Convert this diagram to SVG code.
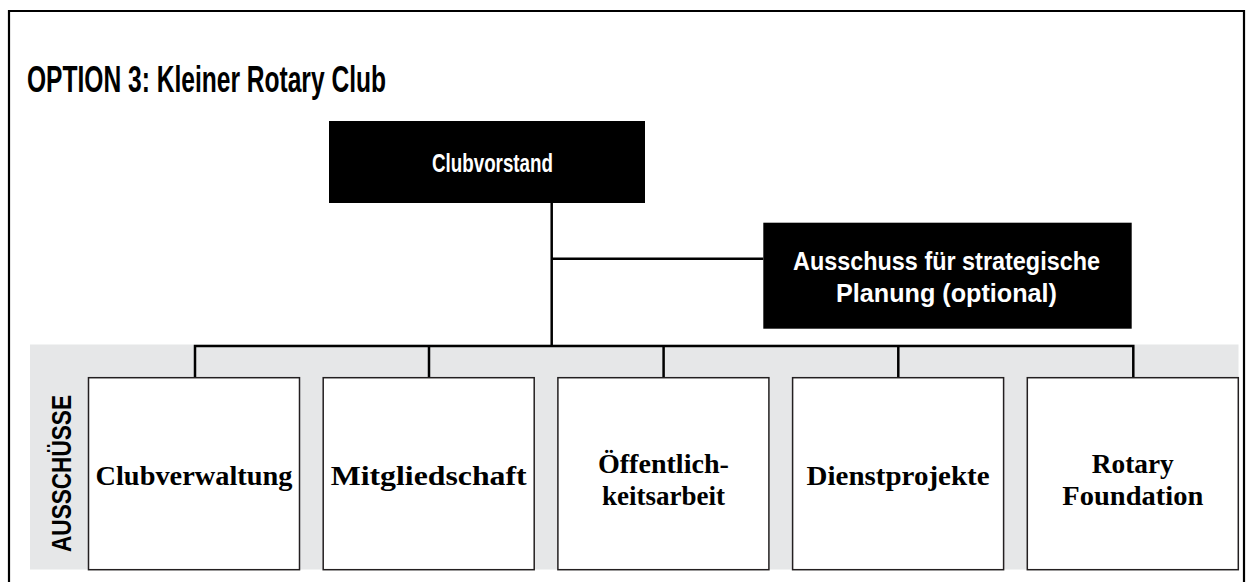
<svg xmlns="http://www.w3.org/2000/svg" width="1252" height="582" viewBox="0 0 1252 582">
<style>
.frame{fill:none;stroke:#000;stroke-width:2.2}
.dark{fill:#000}
.box{fill:#fff;stroke:#231f20;stroke-width:1.5}
.line{fill:none;stroke:#000;stroke-width:2.5}
.cond{font-family:"Liberation Sans",Arial,sans-serif;font-weight:bold}
.wt{fill:#fff;font-size:26px}
.serif{font-family:"Liberation Serif","Times New Roman",serif;font-weight:bold;font-size:28px;fill:#000}
</style>
<rect width="1252" height="582" fill="#fff"/>
<path class="frame" d="M9,582 V11 H1244 V582"/>
<text class="cond" x="27" y="92" font-size="36" textLength="359" lengthAdjust="spacingAndGlyphs">OPTION 3: Kleiner Rotary Club</text>
<rect x="30" y="344.5" width="1208.5" height="225" fill="#e6e7e8"/>
<g id="connectors">
<path class="line" d="M551.7,203 V346"/>
<path class="line" d="M551.7,258.7 H763.3"/>
<path class="line" d="M195,377.7 V346 H1133.3 V377.7"/>
<path class="line" d="M429,346 V377.7 M663.6,346 V377.7 M898.3,346 V377.7"/>
</g>
<g id="clubvorstand">
<rect class="dark" x="329" y="121" width="316" height="82"/>
<text class="cond wt" x="492.5" y="172" text-anchor="middle" textLength="121" lengthAdjust="spacingAndGlyphs">Clubvorstand</text>
</g>
<g id="strategie">
<rect class="dark" x="763.3" y="222.7" width="368.4" height="106"/>
<text class="cond wt" x="946.5" y="270" text-anchor="middle" textLength="307" lengthAdjust="spacingAndGlyphs">Ausschuss für strategische</text>
<text class="cond wt" x="946.5" y="302" text-anchor="middle" textLength="221" lengthAdjust="spacingAndGlyphs">Planung (optional)</text>
</g>
<g id="label-ausschuesse">
<text class="cond" font-size="27" transform="translate(71,473.5) rotate(-90)" text-anchor="middle" textLength="157" lengthAdjust="spacingAndGlyphs">AUSSCHÜSSE</text>
</g>
<g id="clubverwaltung">
<rect class="box" x="88.5" y="377.7" width="211" height="192"/>
<text class="serif" x="194" y="485" text-anchor="middle" textLength="197" lengthAdjust="spacingAndGlyphs">Clubverwaltung</text>
</g>
<g id="mitgliedschaft">
<rect class="box" x="323.2" y="377.7" width="211" height="192"/>
<text class="serif" x="428.7" y="485" text-anchor="middle" textLength="196" lengthAdjust="spacingAndGlyphs">Mitgliedschaft</text>
</g>
<g id="oeffentlichkeitsarbeit">
<rect class="box" x="557.9" y="377.7" width="211" height="192"/>
<text class="serif" x="663.4" y="473" text-anchor="middle" textLength="131" lengthAdjust="spacingAndGlyphs">Öffentlich-</text>
<text class="serif" x="663.4" y="505" text-anchor="middle" textLength="123" lengthAdjust="spacingAndGlyphs">keitsarbeit</text>
</g>
<g id="dienstprojekte">
<rect class="box" x="792.6" y="377.7" width="211" height="192"/>
<text class="serif" x="898.1" y="485" text-anchor="middle" textLength="183" lengthAdjust="spacingAndGlyphs">Dienstprojekte</text>
</g>
<g id="rotary-foundation">
<rect class="box" x="1027.3" y="377.7" width="211" height="192"/>
<text class="serif" x="1132.8" y="473" text-anchor="middle" textLength="82" lengthAdjust="spacingAndGlyphs">Rotary</text>
<text class="serif" x="1132.8" y="505" text-anchor="middle" textLength="141" lengthAdjust="spacingAndGlyphs">Foundation</text>
</g>
</svg>
